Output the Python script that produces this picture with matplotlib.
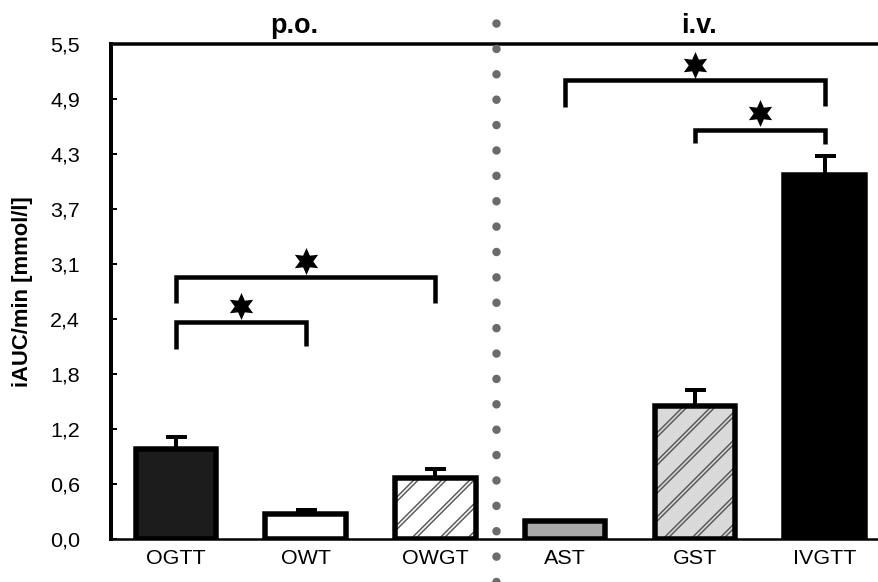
import numpy as np
import matplotlib
matplotlib.use('Agg')
import matplotlib.pyplot as plt
from matplotlib.path import Path
from matplotlib.transforms import blended_transform_factory

DPI = 168


def px(v):
    return v * 72.0 / DPI


# ---------------- data ----------------
categories = ['OGTT', 'OWT', 'OWGT', 'AST', 'GST', 'IVGTT']
means = [1.00, 0.28, 0.68, 0.20, 1.48, 4.04]
sem = [0.13, 0.045, 0.10, 0.0, 0.18, 0.22]
face_colors = ['#1c1c1c', '#ffffff', '#ffffff', '#a9a9a9', '#d9d9d9', '#000000']
hatched = [False, False, True, False, True, False]

ytick_labels = ['0,0', '0,6', '1,2', '1,8', '2,4', '3,1', '3,7', '4,3', '4,9', '5,5']
y_max = 5.5

group_labels = ['p.o.', 'i.v.']
group_label_x = [0.91, 4.03]
separator_x = 2.468

# significance brackets
bracket_left = [0, 0, 3, 4]
bracket_right = [1, 2, 5, 5]
bracket_top = [2.41, 2.91, 5.10, 4.54]
bracket_left_end = [2.11, 2.62, 4.80, 4.40]
bracket_right_end = [2.14, 2.62, 4.81, 4.39]
star_y = [2.59, 3.09, 5.27, 4.73]

# ---------------- figure ----------------
plt.rcParams['font.family'] = ['Liberation Sans', 'DejaVu Sans']
fig = plt.figure(figsize=(878 / DPI, 582 / DPI), dpi=DPI)
ax = fig.add_axes([111 / 878, 43 / 582, 767 / 878, 495 / 582])

x = np.arange(len(categories))
means_a = np.array(means)
sem_a = np.array(sem)
hmask = np.array(hatched)
bar_w = 0.62

# fills
ax.bar(x, means_a, width=bar_w, color=face_colors, linewidth=0, zorder=2)


def hatch_layer(colors, lw_px, z):
    with plt.rc_context({'hatch.linewidth': px(lw_px)}):
        bars = ax.bar(x[hmask], means_a[hmask], width=bar_w, facecolor='none',
                      edgecolor=colors, linewidth=0, hatch='//', zorder=z)
        for b in bars:
            if hasattr(b, 'set_hatch_linewidth'):
                b.set_hatch_linewidth(px(lw_px))
    return bars


hatch_layer(['#555555'] * int(hmask.sum()), 4.5, 2.1)
hatch_layer([c for c, h in zip(face_colors, hatched) if h], 1.6, 2.2)

# outlines
ax.bar(x, means_a, width=bar_w, facecolor='none', edgecolor='black',
       linewidth=px(5.5), zorder=2.3)

# error bars (upper only)
emask = sem_a > 0
ax.errorbar(x[emask], means_a[emask], yerr=[np.zeros(emask.sum()), sem_a[emask]],
            fmt='none', ecolor='black', elinewidth=px(4), capsize=px(10.5),
            capthick=px(4), zorder=2.25)

# brackets and stars
for i, j, yt, yl, yr in zip(bracket_left, bracket_right, bracket_top,
                            bracket_left_end, bracket_right_end):
    ax.plot([i, i, j, j], [yl, yt, yt, yr], color='black', lw=px(4.5),
            solid_joinstyle='miter', solid_capstyle='butt', zorder=3, clip_on=False)

ang = np.pi / 2 + np.arange(12) * np.pi / 6
rad = np.where(np.arange(12) % 2 == 0, 1.0, 0.5)
verts = np.column_stack([rad * np.cos(ang), rad * np.sin(ang)])
verts = np.vstack([verts, verts[0]])
codes = [Path.MOVETO] + [Path.LINETO] * 11 + [Path.CLOSEPOLY]
star = Path(verts, codes)
star_x = [(i + j) / 2 for i, j in zip(bracket_left, bracket_right)]
ax.plot(star_x, star_y, linestyle='none', marker=star, markersize=px(27),
        color='black', markeredgewidth=0, zorder=3, clip_on=False)

# separator dotted line
sep_tr = blended_transform_factory(ax.transData, ax.transAxes)
dot_d = 8.5
ax.plot([separator_x, separator_x], [(539 - 22.7) / 495, (539 - 600) / 495],
        transform=sep_tr, color='#6b6b6b', lw=px(dot_d),
        linestyle=(0, (0.01, 25.3 / dot_d)), dash_capstyle='round',
        clip_on=False, zorder=4)

# group labels
for gx, gl in zip(group_label_x, group_labels):
    ax.text(gx, (539 - 33) / 495, gl, transform=sep_tr, ha='center', va='baseline',
            fontsize=px(27), fontweight='bold', clip_on=False)

# axes styling
ax.set_xlim(-0.5, 5.412)
ax.set_ylim(0, y_max)
ax.set_yticks(np.linspace(0, y_max, len(ytick_labels)), ytick_labels)
ax.set_xticks(x, categories)
ax.tick_params(axis='y', direction='in', length=px(6), width=px(2), pad=px(31),
               labelsize=px(21.5), colors='black')
ax.tick_params(axis='x', length=0, pad=px(10), labelsize=px(21.5))

ax.spines['right'].set_visible(False)
ax.spines['left'].set_linewidth(px(4))
ax.spines['top'].set_linewidth(px(3.5))
ax.spines['bottom'].set_linewidth(px(2.5))

ax.set_ylabel('iAUC/min [mmol/l]', fontsize=px(22), fontweight='bold')
ax.yaxis.set_label_coords(-0.1154, 0.5)
ax.yaxis.label.set_verticalalignment('center')

fig.savefig('out.png', dpi=DPI)
